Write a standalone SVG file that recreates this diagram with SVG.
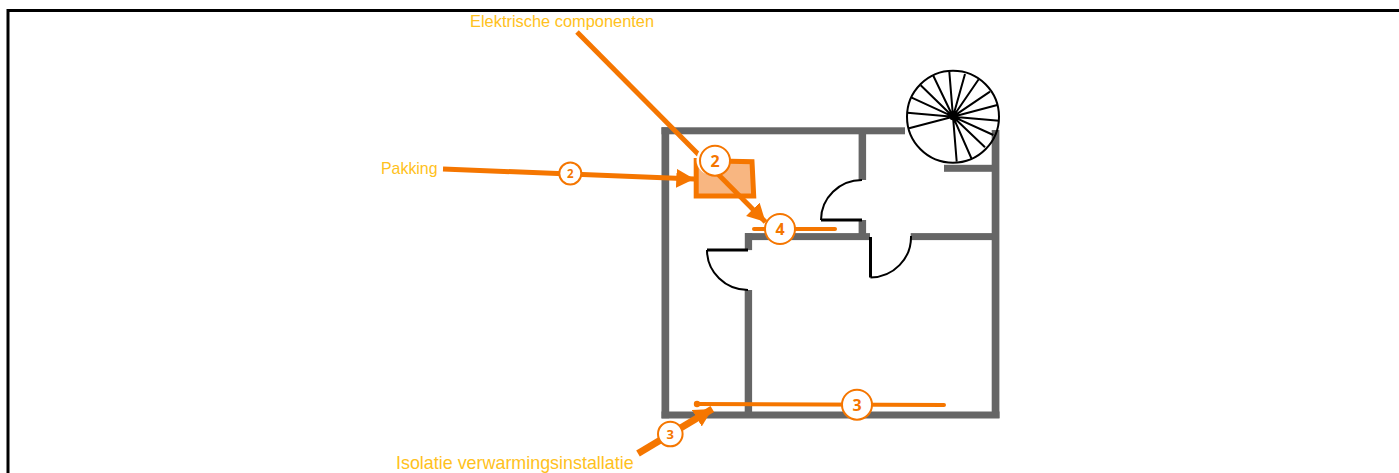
<svg xmlns="http://www.w3.org/2000/svg" width="1399" height="473" viewBox="0 0 1399 473">
<style>
.wall{fill:#666666}
.door{fill:none;stroke:#000;stroke-width:2}
.leaf{fill:none;stroke:#000;stroke-width:3}
.spoke{stroke:#000;stroke-width:2;fill:none}
.ln{stroke:#f57600;fill:none}
.badge{fill:#fff;stroke:#f57600;stroke-width:2}
.num{font-family:"Open Sans","DejaVu Sans",sans-serif;font-weight:700;fill:#f57600;text-anchor:middle}
.lbl{font-family:"Liberation Sans",Arial,sans-serif;fill:#ffc120}
</style>
<defs>
<marker id="head" markerUnits="userSpaceOnUse" markerWidth="22" markerHeight="22" refX="18" refY="10" orient="auto"><path d="M0 0.500L18 10L0 19.500Z" fill="#f57600"/></marker>
</defs>
<rect x="8" y="10.500" width="1500" height="600" fill="#fff" stroke="#000" stroke-width="3"/>
<g id="floorplan">
<rect class="wall" x="661.500" y="127.300" width="243.500" height="7"/>
<rect class="wall" x="661.500" y="127.300" width="7.700" height="291"/>
<rect class="wall" x="661.500" y="411.500" width="338" height="7"/>
<rect class="wall" x="991.700" y="130" width="7.700" height="288"/>
<rect class="wall" x="858.600" y="134" width="7.500" height="46"/>
<rect class="wall" x="858.600" y="220" width="7.500" height="15"/>
<rect class="wall" x="745" y="233.100" width="125" height="7"/>
<rect class="wall" x="910.700" y="233.100" width="82" height="7"/>
<rect class="wall" x="744.800" y="233.100" width="7.300" height="17"/>
<rect class="wall" x="744.700" y="290" width="7.400" height="122"/>
<rect class="wall" x="944" y="164.800" width="49" height="7"/>
<path class="leaf" d="M821 220H862"/>
<path class="door" d="M862 180A41 40 0 0 0 821 220"/>
<path class="leaf" d="M707 250H748"/>
<path class="door" d="M707 250A41 40 0 0 0 748 290"/>
<path class="leaf" d="M870.500 237V277.500"/>
<path class="door" d="M870.500 277.500A41 41 0 0 0 911 236"/>
</g>
<g id="stairs">
<circle class="spoke" cx="953" cy="116.700" r="46"/>
<path class="spoke" d="M953 116.700L949.300 71.700M953 116.700L933.300 75.700M953 116.700L920.700 85.300M953 116.700L911.700 97.700M953 116.700L907.300 112.700M953 116.700L909 128.300M953 116.700L956.700 161.700M953 116.700L971.700 159M953 116.700L985 147.300M953 116.700L993.300 135M953 116.700L999 120.700M953 116.700L997.300 105M953 116.700L990 91.700M953 116.700L978.700 79.300M953 116.700L965 74"/>
<circle cx="953" cy="116.700" r="3.500" fill="#000"/>
</g>
<g id="gasket">
<path d="M696.200 160.500L752 161.700L753.700 196H696.200Z" fill="#f8b681" stroke="#f57600" stroke-width="5"/>
</g>
<g id="connectors">
<path class="ln" stroke-width="5" d="M577 32L765.500 222" marker-end="url(#head)"/>
<path class="ln" stroke-width="5" d="M443 169L694.300 179" marker-end="url(#head)"/>
<path class="ln" stroke-width="4" stroke-linecap="round" d="M754 229H835"/>
<path class="ln" stroke-width="4" stroke-linecap="round" d="M697 404L944 405"/>
<circle cx="697" cy="404" r="3.200" fill="#f57600"/>
<path class="ln" stroke-width="7" d="M638 453.500L712.300 409" marker-end="url(#head)"/>
</g>
<g id="badge-electrical">
<circle cx="711.500" cy="160" r="15" fill="#fff"/>
<circle class="badge" cx="715" cy="160.700" r="15"/>
<text class="num" x="715" y="166.500" font-size="16">2</text>
</g>
<g id="badge-wall">
<circle class="badge" cx="780" cy="229" r="15"/>
<text class="num" x="780" y="234.800" font-size="16">4</text>
</g>
<g id="badge-gasket">
<circle class="badge" cx="570.300" cy="173.500" r="11"/>
<text class="num" x="570.300" y="177.800" font-size="11.500">2</text>
</g>
<g id="badge-floor">
<circle class="badge" cx="857" cy="404.700" r="15"/>
<text class="num" x="857" y="410.500" font-size="16">3</text>
</g>
<g id="badge-insulation">
<circle class="badge" cx="670.300" cy="434" r="12.300"/>
<text class="num" x="670.300" y="438.800" font-size="13">3</text>
</g>
<g id="label-electrical"><text class="lbl" x="470" y="26.500" font-size="16.400">Elektrische componenten</text></g>
<g id="label-gasket"><text class="lbl" x="381" y="174" font-size="15.900">Pakking</text></g>
<g id="label-insulation"><text class="lbl" x="396" y="468.500" font-size="17.900">Isolatie verwarmingsinstallatie</text></g>
</svg>
